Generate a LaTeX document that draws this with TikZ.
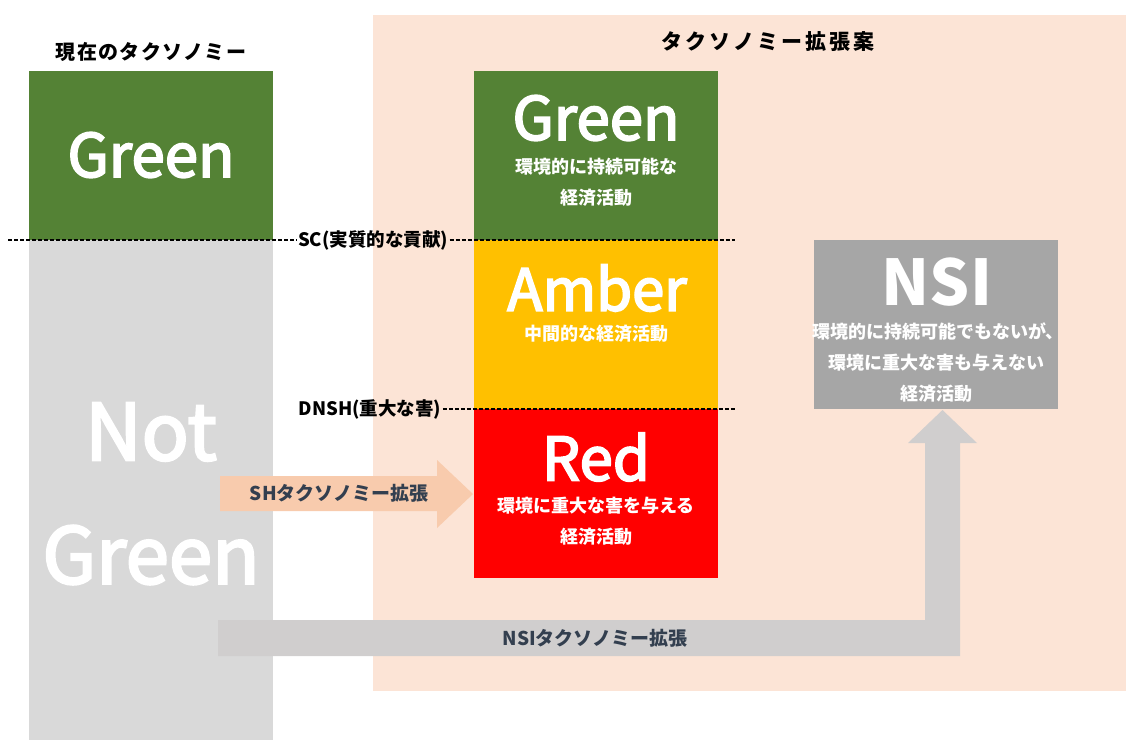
\documentclass[tikz,border=0pt]{standalone}
\usepackage{fontspec}
\setmainfont{Noto Sans CJK JP}
\newfontfamily\medfont[FakeBold=3]{Noto Sans CJK JP}
\definecolor{cgreen}{HTML}{548235}
\definecolor{camber}{HTML}{FFC000}
\definecolor{cred}{HTML}{FF0000}
\definecolor{cnsi}{HTML}{A6A6A6}
\definecolor{clgray}{HTML}{D9D9D9}
\definecolor{cpeach}{HTML}{FCE4D6}
\definecolor{csharrow}{HTML}{F8CBAD}
\definecolor{cnsiarrow}{HTML}{D0CECE}
\definecolor{ctext}{HTML}{333F4F}
\tikzset{
  block/.style={inner sep=0pt, minimum width=244pt, minimum height=169pt, draw=none},
  big/.style={text=white, inner sep=0pt, font=\medfont\fontsize{60}{60}\selectfont},
  sub/.style={text=white, inner sep=0pt, font=\fontsize{18}{18}\selectfont\bfseries},
  title/.style={text=black, inner sep=0pt},
  lbl/.style={text=black, inner sep=1.5pt, font=\fontsize{18.5}{18.5}\selectfont\bfseries},
  arrowtext/.style={text=ctext, inner sep=0pt, font=\fontsize{19}{19}\selectfont\bfseries},
  dline/.style={black, line width=1.1pt, dash pattern=on 4pt off 2pt},
}
\begin{document}
\begin{tikzpicture}[x=1pt,y=-1pt]
\useasboundingbox (0,0) rectangle (1126,740);
% backgrounds
\fill[cpeach] (373,15) rectangle (1126,691);
% left column
\node[block, fill=cgreen, anchor=north west] (lgreen) at (29,71) {};
\node[block, fill=clgray, anchor=north west, minimum height=500pt] (notgreen) at (29,240) {};
\node[title, font=\fontsize{20}{20}\selectfont\bfseries\addfontfeature{LetterSpace=7}] (ltitle) at (151,52) {現在のタクソノミー};
\node[big] (lgreentxt) at (151,155) {Green};
\node[big, font=\medfont\fontsize{78}{78}\selectfont] (nottxt) at (151,432) {Not};
\node[big, font=\medfont\fontsize{78}{78}\selectfont] (ngtxt) at (151,555) {Green};
% right title
\node[title, font=\fontsize{21}{21}\selectfont\bfseries\addfontfeature{LetterSpace=15}] (rtitle) at (768,42) {タクソノミー拡張案};
% right column
\node[block, fill=cgreen, anchor=north west] (rgreen) at (474,71) {};
\node[block, fill=camber, anchor=north west] (amber) at (474,240) {};
\node[block, fill=cred, anchor=north west] (red) at (474,409) {};
\node[block, fill=cnsi, anchor=north west] (nsi) at (814,240) {};
\node[big] (rgreentxt) at (596,118) {Green};
\node[sub] (rg1) at (596,167) {環境的に持続可能な};
\node[sub] (rg2) at (596,198) {経済活動};
\node[big, font=\medfont\fontsize{58}{58}\selectfont] (ambertxt) at (597,288) {Amber};
\node[sub] (am1) at (596,334) {中間的な経済活動};
\node[big] (redtxt) at (596,457) {Red};
\node[sub] (rd1) at (596,506) {環境に重大な害を与える};
\node[sub] (rd2) at (596,537) {経済活動};
\node[big, font=\fontsize{63}{63}\selectfont\bfseries] (nsitxt) at (937,282) {NSI};
\node[sub] (ns1) at (938,331) {環境的に持続可能でもないが、};
\node[sub] (ns2) at (936,363) {環境に重大な害も与えない};
\node[sub] (ns3) at (936,394) {経済活動};
% threshold lines
\node[lbl] (sc) at (373,240) {SC(実質的な貢献)};
\node[lbl] (dnsh) at (370,409) {DNSH(重大な害)};
\coordinate (scl) at (8,240);
\coordinate (scr) at (735,240);
\coordinate (dnr) at (735,409);
\draw[dline] (scl) -- (sc.west);
\draw[dline] (sc.east) -- (scr);
\draw[dline] (dnsh.east) -- (dnr);
% SH arrow
\fill[csharrow] (220,476) -- (437,476) -- (437,460) -- (473,494) -- (437,528) -- (437,511) -- (220,511) -- cycle;
\node[arrowtext] (shtxt) at (339,493) {SHタクソノミー拡張};
% NSI arrow
\fill[cnsiarrow] (218,620) -- (925,620) -- (925,443) -- (908,443) -- (942.5,410) -- (977,443) -- (960,443) -- (960,656) -- (218,656) -- cycle;
\node[arrowtext] (nsiatxt) at (595,638) {NSIタクソノミー拡張};
\end{tikzpicture}
\end{document}
